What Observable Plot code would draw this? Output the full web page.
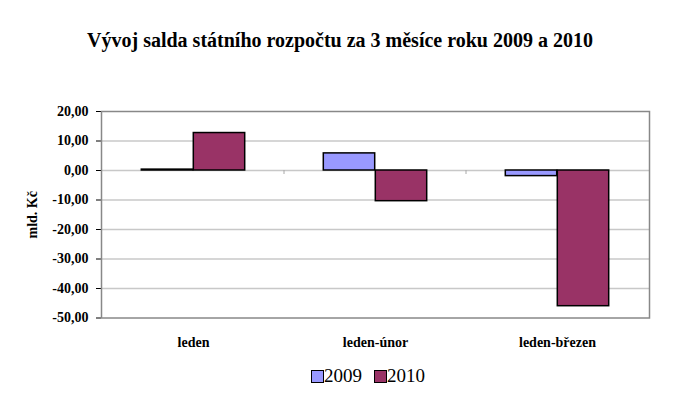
<!DOCTYPE html>
<html><head><meta charset="utf-8">
<script src="https://cdn.jsdelivr.net/npm/d3@7"></script>
<script src="https://cdn.jsdelivr.net/npm/@observablehq/plot@0.6"></script>
<style>
body{margin:0;background:#fff;width:700px;height:397px;position:relative;overflow:hidden;font-family:"Liberation Serif","Times New Roman",serif;color:#000}
#title{position:absolute;left:0;top:28px;width:680px;text-align:center;font-weight:bold;font-size:20px;line-height:24px}
#chart{position:absolute;left:0;top:80px}
#legend{position:absolute;left:0;top:365px;width:736px;display:flex;justify-content:center;align-items:center;font-size:19px;line-height:22px}
.item{display:flex;align-items:center;margin:0 6px}
.sw{width:11px;height:11px;border:1.5px solid #000;margin-right:0}
</style>
</head><body>
<div id="title">Vývoj salda státního rozpočtu za 3 měsíce roku 2009 a 2010</div>
<div id="chart"></div>
<div id="legend"></div>
<script>
const categories = ["leden", "leden-únor", "leden-březen"];
const years = ["2009", "2010"];
const values2009 = [0.3, 5.8, -1.9];
const values2010 = [12.7, -10.4, -46.0];
const yTicks = [20, 10, 0, -10, -20, -30, -40, -50];
const colors = ["#9999FF", "#993366"];
const yLabel = "mld. Kč";

const data = categories.flatMap((c, i) => [
  {cat: c, year: years[0], value: values2009[i]},
  {cat: c, year: years[1], value: values2010[i]}
]);

const chart = Plot.plot({
  width: 700, height: 275,
  marginTop: 31, marginBottom: 37.5, marginLeft: 101, marginRight: 51,
  style: {fontFamily: '"Liberation Serif", "Times New Roman", serif', fontSize: "14px", fontWeight: "bold", color: "#000", background: "white", overflow: "visible"},
  x: {domain: categories, padding: 0, tickSize: 0, tickPadding: 19, label: null, axis: "bottom"},
  y: {domain: [-50, 20], ticks: yTicks, tickFormat: d => d.toFixed(2).replace(".", ","),
      label: yLabel, labelAnchor: "center", labelOffset: 74, labelArrow: false, tickSize: 5, tickPadding: 8},
  color: {domain: years, range: colors},
  marks: [
    Plot.ruleY(yTicks.filter(d => d < 20 && d > -50), {stroke: "#c8c8c8", strokeWidth: 1.5}),
    (index, {x, y}) => {
      const g = d3.create("svg:g").attr("stroke", "#a8a8a8").attr("stroke-width", 1);
      categories.slice(1).forEach(c => g.append("line")
        .attr("x1", x(c)).attr("x2", x(c)).attr("y1", y(0)).attr("y2", y(0) + 4));
      return g.node();
    },
    Plot.barY(data.filter(d => d.year === years[0]), {x: "cat", y: "value", fill: "year", stroke: "#000", strokeWidth: 1.5, insetLeft: 39.3, insetRight: 91.3}),
    Plot.barY(data.filter(d => d.year === years[1]), {x: "cat", y: "value", fill: "year", stroke: "#000", strokeWidth: 1.5, insetLeft: 91.3, insetRight: 39.3}),
    Plot.frame({stroke: "#888", strokeWidth: 1.5})
  ]
});
document.getElementById("chart").appendChild(chart);

const legend = d3.select("#legend");
years.forEach((yr, i) => {
  const it = legend.append("div").attr("class", "item");
  it.append("div").attr("class", "sw").style("background", colors[i]);
  it.append("span").text(yr);
});
</script>
</body></html>
